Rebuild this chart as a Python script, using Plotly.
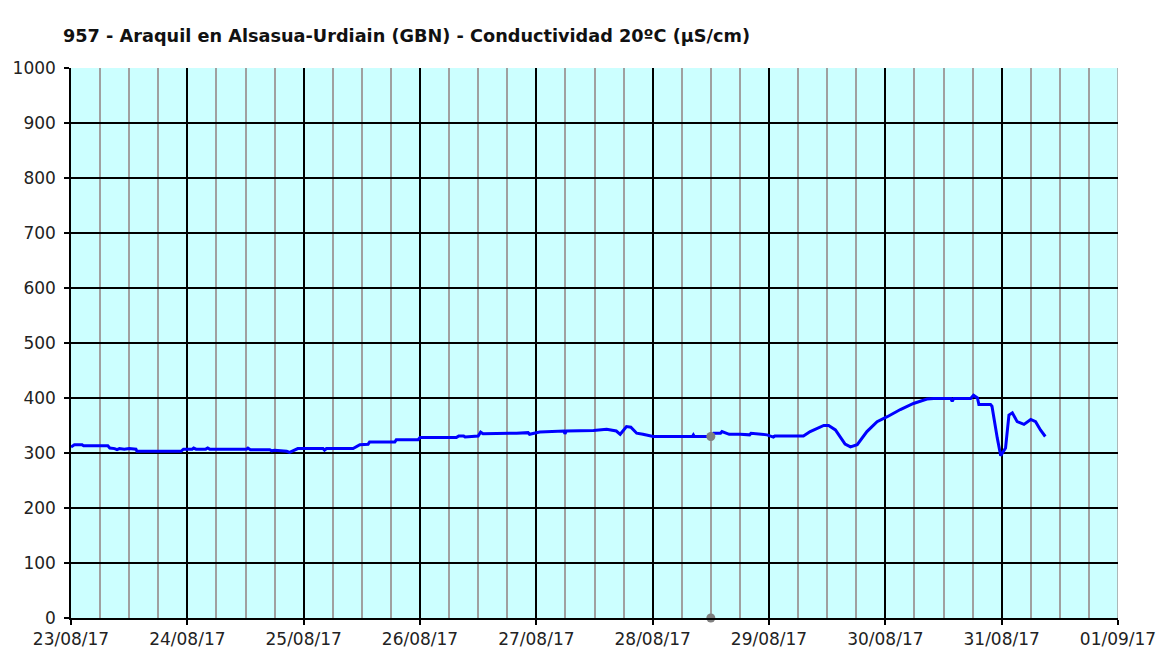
import pandas as pd
import plotly.graph_objects as go

# Hours since 23/08/17 00:00 and conductivity values (µS/cm)
hours = [0, 0.7, 2.3, 2.6, 7.6, 8.0, 9.0, 9.5, 10.0, 11.0, 12.0, 13.4, 13.6, 22.7, 23.2, 25.0, 25.3, 25.8,
         27.8, 28.2, 28.6, 36.2, 36.5, 37.0, 41.0, 41.4, 42.0, 44.5, 45.1, 46.0, 46.8, 52.0, 52.3, 52.7,
         58.2, 59.6, 61.3, 61.6, 66.8, 67.1, 71.6, 72.0, 79.5, 80.0, 81.0, 81.3, 84.0, 84.5, 85.0,
         91.9, 94.3, 94.6, 96.7, 101.7, 101.9, 102.2, 107.8, 110.5, 112.5, 113.3, 114.6, 115.5, 116.7,
         118.0, 120.1, 128.2, 128.4, 128.6, 132.2, 132.6, 134.0, 134.3, 135.5, 135.8, 138.1, 140.0,
         140.3, 143.6, 144.9, 145.2, 151.1, 152.5, 155.3, 156.3, 157.7, 159.7, 160.8, 162.2, 164.2,
         166.3, 168.4, 171.1, 173.8, 176.6, 178.0, 181.5, 181.8, 182.1, 185.6, 186.2, 187.0, 187.3,
         189.7, 190.0, 191.1, 191.8, 192.8, 193.5, 194.2, 195.2, 196.6, 198.0, 199.0, 200.0, 201.0]
values = [311, 315, 315, 313, 313, 309, 308, 306, 308, 307, 308, 307, 303, 303, 307, 307, 309, 307,
          307, 309, 307, 307, 309, 306, 306, 304, 305, 303, 301, 305, 308, 308, 305, 308,
          308, 315, 316, 320, 320, 324, 324, 328, 328, 331, 331, 329, 331, 338, 335,
          336, 337, 334, 338, 340, 335, 340, 341, 343, 340, 334, 348, 347, 336,
          334, 330, 330, 333, 330, 330, 336, 336, 339, 336, 334, 334, 333,
          336, 333, 329, 331, 331, 339, 350, 350, 342, 316, 311, 315, 339,
          357, 366, 379, 390, 398, 399, 399, 394, 399, 399, 405, 400, 388,
          388, 385, 327, 295, 309, 369, 373, 357, 352, 361, 357, 342, 330]

marker_hours = [132.0, 132.0]
marker_values = [330, 0]

x_ticks = ["2017-08-23", "2017-08-24", "2017-08-25", "2017-08-26", "2017-08-27",
           "2017-08-28", "2017-08-29", "2017-08-30", "2017-08-31", "2017-09-01"]
x_labels = ["23/08/17", "24/08/17", "25/08/17", "26/08/17", "27/08/17",
            "28/08/17", "29/08/17", "30/08/17", "31/08/17", "01/09/17"]
y_ticks = list(range(0, 1001, 100))

base = pd.Timestamp("2017-08-23 00:00")
t = [base + pd.Timedelta(hours=h) for h in hours]
tm = [base + pd.Timedelta(hours=h) for h in marker_hours]

fig = go.Figure()
fig.add_trace(go.Scatter(x=t, y=values, mode="lines",
                         line=dict(color="#0000FF", width=3), hoverinfo="skip"))
fig.add_trace(go.Scatter(x=tm, y=marker_values, mode="markers",
                         marker=dict(color="#808080", size=9), cliponaxis=False, hoverinfo="skip"))

fig.update_layout(
    width=1168, height=660,
    margin=dict(l=71, r=50, t=68, b=42),
    paper_bgcolor="white", plot_bgcolor="#CCFFFF",
    showlegend=False,
    title=dict(text="957 - Araquil en Alsasua-Urdiain (GBN) - Conductividad 20ºC (µS/cm)",
               x=63 / 1168, xanchor="left", y=1 - 36 / 660, yanchor="middle",
               font=dict(family="DejaVu Sans", size=17.7, color="#111111", weight="bold")),
    font=dict(family="DejaVu Sans", size=17, color="#222222"),
    shapes=[dict(type="line", xref="x", yref="paper", x0=x_ticks[-1], x1=x_ticks[-1],
                 y0=0, y1=1, line=dict(color="#A0A0A0", width=1.5), layer="between")],
)
fig.update_xaxes(
    type="date", range=[x_ticks[0], x_ticks[-1]],
    tickmode="array", tickvals=x_ticks, ticktext=x_labels,
    showgrid=True, gridcolor="black", gridwidth=1.5,
    ticks="outside", ticklen=5, tickcolor="black", tickwidth=1.5,
    showline=True, linecolor="black", linewidth=1.5,
    minor=dict(dtick=6 * 3600 * 1000, tick0=x_ticks[0], showgrid=True,
               gridcolor="#A0A0A0", gridwidth=1.5),
    zeroline=False,
)
fig.update_yaxes(
    range=[0, 1000], tickmode="array", tickvals=y_ticks,
    showgrid=True, gridcolor="black", gridwidth=1.5,
    ticks="outside", ticklen=5, tickcolor="black", tickwidth=1.5,
    showline=True, linecolor="black", linewidth=1.5,
    ticklabelstandoff=5,
    zeroline=False,
)

fig.write_html("out.html", config={"displayModeBar": False},
               post_script="document.body.style.margin='0';")
